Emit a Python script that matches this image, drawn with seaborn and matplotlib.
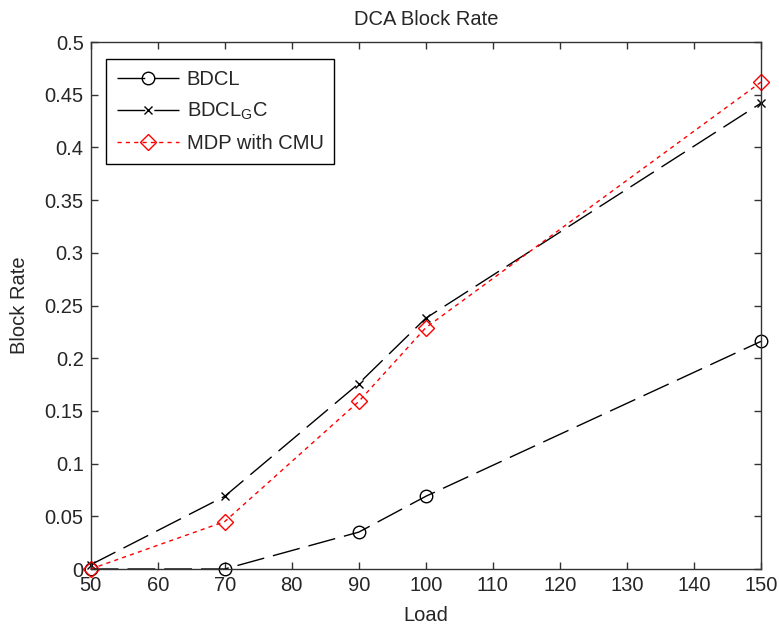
import matplotlib
matplotlib.use("Agg")
import matplotlib.pyplot as plt
import seaborn as sns
import pandas as pd

# Block rate of each scheme versus offered load
load = [50, 70, 90, 100, 150]
bdcl = [0.0, 0.0, 0.035, 0.069, 0.216]
bdcl_gc = [0.004, 0.069, 0.176, 0.238, 0.442]
mdp_cmu = [0.0, 0.045, 0.159, 0.229, 0.462]

series_names = ["BDCL", r"BDCL$_{\mathregular{G}}$C", "MDP with CMU"]

sns.set_style("ticks")
plt.rcParams["font.family"] = ["Liberation Sans", "DejaVu Sans"]
plt.rcParams["mathtext.default"] = "regular"
plt.rcParams["font.size"] = 14

fig = plt.figure(figsize=(7.79, 6.27), dpi=100)
ax = fig.add_axes([0.1164, 0.0925, 0.8605, 0.8405])

styles = [
    dict(values=bdcl, color="black", marker="o", ms=9, dashes=(20, 6.5)),
    dict(values=bdcl_gc, color="black", marker="x", ms=6, dashes=(20, 6.5)),
    dict(values=mdp_cmu, color="red", marker="D", ms=8, dashes=(3, 3)),
]

for name, st in zip(series_names, styles):
    df = pd.DataFrame({"Load": load, "Block Rate": st["values"]})
    sns.lineplot(data=df, x="Load", y="Block Rate", ax=ax, color=st["color"],
                 marker=st["marker"], markersize=st["ms"], markerfacecolor="none",
                 markeredgecolor=st["color"], markeredgewidth=1.0, linewidth=1.0,
                 label=name, clip_on=False)
    ax.lines[-1].set_dashes(st["dashes"])

ax.set_xlim(50, 150)
ax.set_ylim(0, 0.5)
ax.set_xticks(range(50, 151, 10))
ax.set_yticks([i * 0.05 for i in range(11)])
ax.set_yticklabels(["0", "0.05", "0.1", "0.15", "0.2", "0.25", "0.3", "0.35", "0.4", "0.45", "0.5"])

for sp in ax.spines.values():
    sp.set_visible(True)
    sp.set_color("#333333")
    sp.set_linewidth(1.0)
ax.tick_params(direction="in", length=5, width=1.0, color="#333333",
               top=True, right=True, labelsize=14.5, pad=5)

ax.set_title("DCA Block Rate", fontsize=14.5, pad=12)
ax.set_xlabel("Load", fontsize=14.5, labelpad=8)
ax.set_ylabel("Block Rate", fontsize=14.5, labelpad=11)

leg = ax.legend(loc="upper left", bbox_to_anchor=(0.0228, 0.968), borderaxespad=0,
                fontsize=14.5, handlelength=3.1, handletextpad=0.35, labelspacing=0.6,
                borderpad=0.55, fancybox=False, edgecolor="black", framealpha=1)
leg.get_frame().set_linewidth(1.0)

fig.savefig("out.png", dpi=100)
